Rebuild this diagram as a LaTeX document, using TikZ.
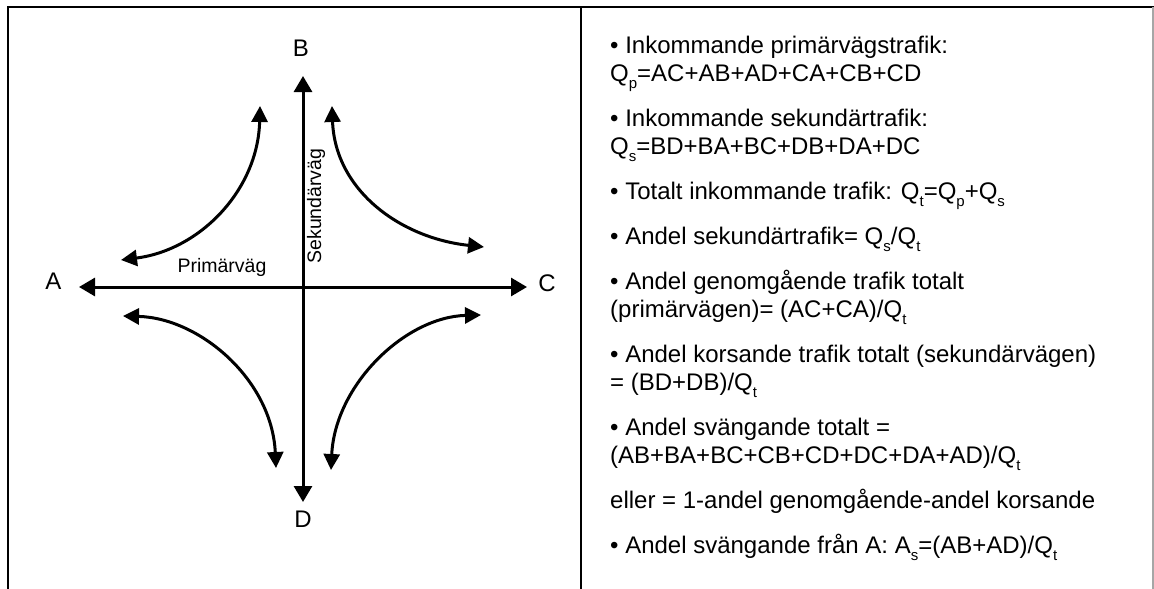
\documentclass[tikz,border=0pt]{standalone}
\usepackage{fontspec}
\setmainfont{Liberation Sans}
\usetikzlibrary{arrows.meta}
\newcommand\sbx[1]{\raisebox{-0.3em}{\fontsize{15}{15}\selectfont #1}}
\tikzset{
  frameline/.style={line width=2pt,black},
  road/.style={line width=3pt,{Triangle[length=16pt,width=18pt]}-{Triangle[length=16pt,width=18pt]}},
  turn/.style={line width=3pt,{Triangle[length=16pt,width=16pt]}-{Triangle[length=16pt,width=16pt]}},
  lbl/.style={inner sep=0pt,font=\fontsize{24}{28}\selectfont},
  roadname/.style={inner sep=0pt,font=\fontsize{19.5}{22}\selectfont},
  txt/.style={inner sep=0pt,anchor=base west,font=\fontsize{24}{28}\selectfont}
}
\begin{document}
\begin{tikzpicture}[x=1pt,y=-1pt]
\useasboundingbox (0,0) rectangle (1154,589);
% frame
\draw[frameline] (8,589) -- (8,7) -- (1154,7);
\draw[frameline] (581,7) -- (581,589);
\draw[line width=1.5pt,black!35] (1153,7) -- (1153,589);
% labels
\node[lbl,anchor=base] (A) at (53.5,289) {A};
\node[lbl,anchor=base] (B) at (301,56) {B};
\node[lbl,anchor=base] (C) at (547,291) {C};
\node[lbl,anchor=base] (D) at (303,527) {D};
\node[roadname,anchor=base] (prim) at (222,272) {Primärväg};
\node[roadname,rotate=90] (sek) at (316,206) {Sekundärväg};
% tips
\coordinate (tA) at (79,287);
\coordinate (tC) at (527,287);
\coordinate (tB) at (303,76);
\coordinate (tD) at (303,502);
\draw[road] (tA) -- (tC);
\draw[road] (tB) -- (tD);
% turning movements
\coordinate (ulT) at (260,106);
\coordinate (ulL) at (121,260);
\coordinate (urT) at (332,106);
\coordinate (urR) at (484,247);
\coordinate (llL) at (123,316);
\coordinate (llB) at (276,468);
\coordinate (lrR) at (481,315);
\coordinate (lrB) at (331,470);
\draw[turn] (ulT) .. controls (258,190) and (200,250) .. (ulL);
\draw[turn] (urT) .. controls (335,190) and (400,238) .. (urR);
\draw[turn] (llL) .. controls (200,318) and (272,380) .. (llB);
\draw[turn] (lrR) .. controls (405,317) and (335,385) .. (lrB);
% right text
\node[txt] (t1) at (610,53) {• Inkommande primärvägstrafik:};
\node[txt] (t2) at (610,81) {Q\sbx{p}=AC+AB+AD+CA+CB+CD};
\node[txt] (t3) at (610,126) {• Inkommande sekundärtrafik:};
\node[txt] (t4) at (610,154) {Q\sbx{s}=BD+BA+BC+DB+DA+DC};
\node[txt] (t5) at (610,199) {• Totalt inkommande trafik: Q\sbx{t}=Q\sbx{p}+Q\sbx{s}};
\node[txt] (t6) at (610,244) {• Andel sekundärtrafik= Q\sbx{s}/Q\sbx{t}};
\node[txt] (t7) at (610,289) {• Andel genomgående trafik totalt};
\node[txt] (t8) at (610,317) {(primärvägen)= (AC+CA)/Q\sbx{t}};
\node[txt] (t9) at (610,362) {• Andel korsande trafik totalt (sekundärvägen)};
\node[txt] (t10) at (610,390) {= (BD+DB)/Q\sbx{t}};
\node[txt] (t11) at (610,435) {• Andel svängande totalt =};
\node[txt] (t12) at (610,463) {(AB+BA+BC+CB+CD+DC+DA+AD)/Q\sbx{t}};
\node[txt] (t13) at (610,508) {eller = 1-andel genomgående-andel korsande};
\node[txt] (t14) at (610,553) {• Andel svängande från A: A\sbx{s}=(AB+AD)/Q\sbx{t}};
\end{tikzpicture}
\end{document}
